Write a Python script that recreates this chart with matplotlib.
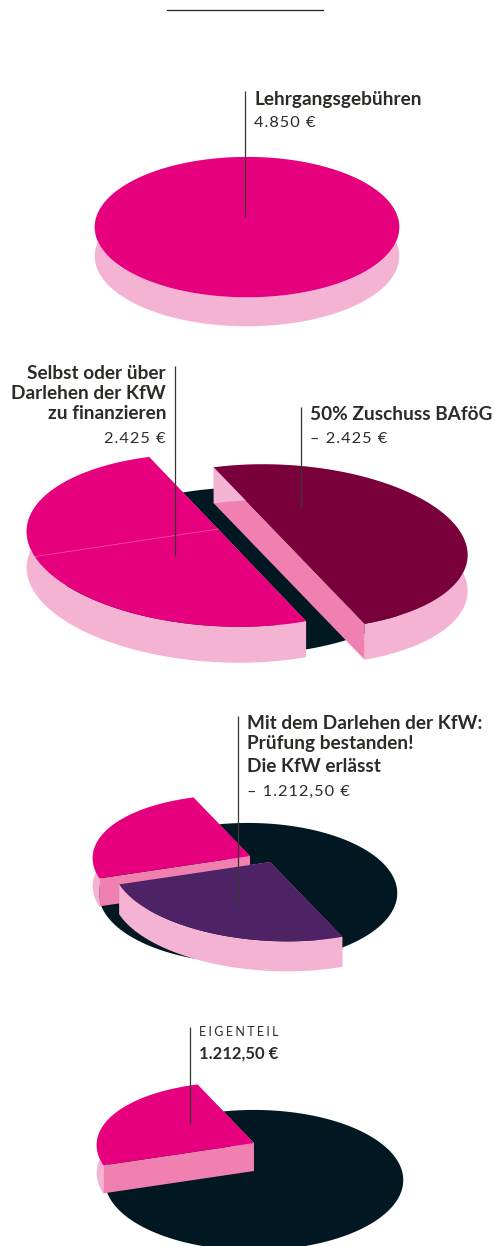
import numpy as np
from matplotlib import pyplot as plt

# Amounts in euro
total = 4850
half = 2425
quarter = 1212.5

label_fee = "Lehrgangsgebühren"
label_fee_value = "4.850 €"
label_self = ["Selbst oder über", "Darlehen der KfW", "zu finanzieren"]
label_self_value = "2.425 €"
label_grant = "50% Zuschuss BAföG"
label_grant_value = "– 2.425 €"
label_waive = ["Mit dem Darlehen der KfW:", "Prüfung bestanden!", "Die KfW erlässt"]
label_waive_value = "– 1.212,50 €"
label_own = "EIGENTEIL"
label_own_value = "1.212,50 €"

PINK = '#e6007e'
WINE = '#7a003c'
PURPLE = '#4d2366'
DARK = '#011822'
WALL = '#f5b3d3'
FACE = '#f080b0'
TEXT = '#2e2a27'
LINE = '#3a3634'

CUT = 70  # angle of the diagonal cut, degrees
PERSP = 0.13
SHEAR_X = 0.15
SHEAR_Y = 0.015

fig = plt.figure(figsize=(4.95, 12.46), dpi=100)
ax = fig.add_axes([0, 0, 1, 1])
ax.set_xlim(0, 495)
ax.set_ylim(1246, 0)
ax.axis('off')


def rim(cx, cy, rx, ry, start, amount, sheared=True):
    # circle seen in perspective: the centre stays at (cx, cy), the rim is off centre
    theta = np.radians(np.linspace(start, start + amount / total * 360, 181))
    w = 1 / (1 - PERSP * np.sin(theta))
    dx = rx * np.cos(theta) * w
    dy = ry * np.sin(theta) * w
    if sheared:
        dx, dy = dx + SHEAR_X * dy, dy + SHEAR_Y * dx
    return cx + dx, cy + dy


def slice3d(cx, cy, rx, ry, depth, start, amount, color, wall=True):
    closed = amount >= total
    x, y = rim(cx, cy, rx, ry, start, amount, not closed)
    if wall:
        if not closed:
            # cut faces
            for i in (0, -1):
                ax.fill([cx, x[i], x[i], cx], [cy, y[i], y[i] + depth, cy + depth],
                        color=FACE, lw=0)
        ax.fill(np.r_[x, x[::-1]], np.r_[y, y[::-1] + depth], color=WALL, lw=0)
    if closed:
        ax.fill(x, y, color=color, lw=0)
    else:
        ax.fill(np.r_[cx, x], np.r_[cy, y], color=color, lw=0)


def leader(x, y0, y1):
    ax.plot([x, x], [y0, y1], color=LINE, lw=0.9, solid_capstyle='butt')


def bold(x, y, s, ha='left', size=13.7):
    ax.text(x, y, s, ha=ha, va='baseline', color=TEXT, fontsize=size, fontweight='bold',
            family=['Lato', 'DejaVu Sans'])


def light(x, y, s, ha='left', size=11.8, gap='\u200a'):
    ax.text(x, y, gap.join(s), ha=ha, va='baseline', color=TEXT, fontsize=size,
            family=['Lato', 'DejaVu Sans'])


# rule on top
ax.plot([167, 323], [10, 10], color='#222222', lw=0.9)

# full fee
slice3d(247, 218, 151, 69, 29, 0, total, PINK)
leader(245, 91, 217)
bold(254, 105, label_fee)
light(254, 127, label_fee_value)

# half and half
slice3d(245, 560, 180, 82, 0, 0, total, DARK, wall=False)
slice3d(218, 529, 191, 85, 36, CUT, half, PINK)
x, y = rim(218, 529, 191, 85, CUT + 90, 0)
ax.plot([218, x[0]], [529, y[0]], color='#f55aa8', lw=0.5)
slice3d(280, 536, 184, 81, 36, CUT + 180, half, WINE)
leader(175, 366, 556)
leader(301, 407, 508)
for i, s in enumerate(label_self):
    bold(166, 379 + i * 20, s, ha='right')
light(166, 443, label_self_value, ha='right')
bold(310, 420, label_grant)
light(310, 443, label_grant_value)

# exam passed
slice3d(248, 884, 148, 69, 0, 0, total, DARK, wall=False)
slice3d(250, 856, 157, 69, 28, CUT + 90, quarter, PINK)
slice3d(270, 862, 157, 69, 30, CUT, quarter, PURPLE)
leader(238, 716, 906)
bold(247, 729, label_waive[0])
bold(247, 749, label_waive[1])
bold(247, 772, label_waive[2])
light(247, 796, label_waive_value)

# own share
slice3d(254, 1171, 148, 69, 0, 0, total, DARK, wall=False)
slice3d(254, 1143, 157, 69, 28, CUT + 90, quarter, PINK)
leader(190, 1027, 1124)
light(199, 1036, label_own, size=9, gap='\u2009\u200a')
bold(199, 1059, label_own_value, size=12)

plt.savefig('out.png', dpi=100)
